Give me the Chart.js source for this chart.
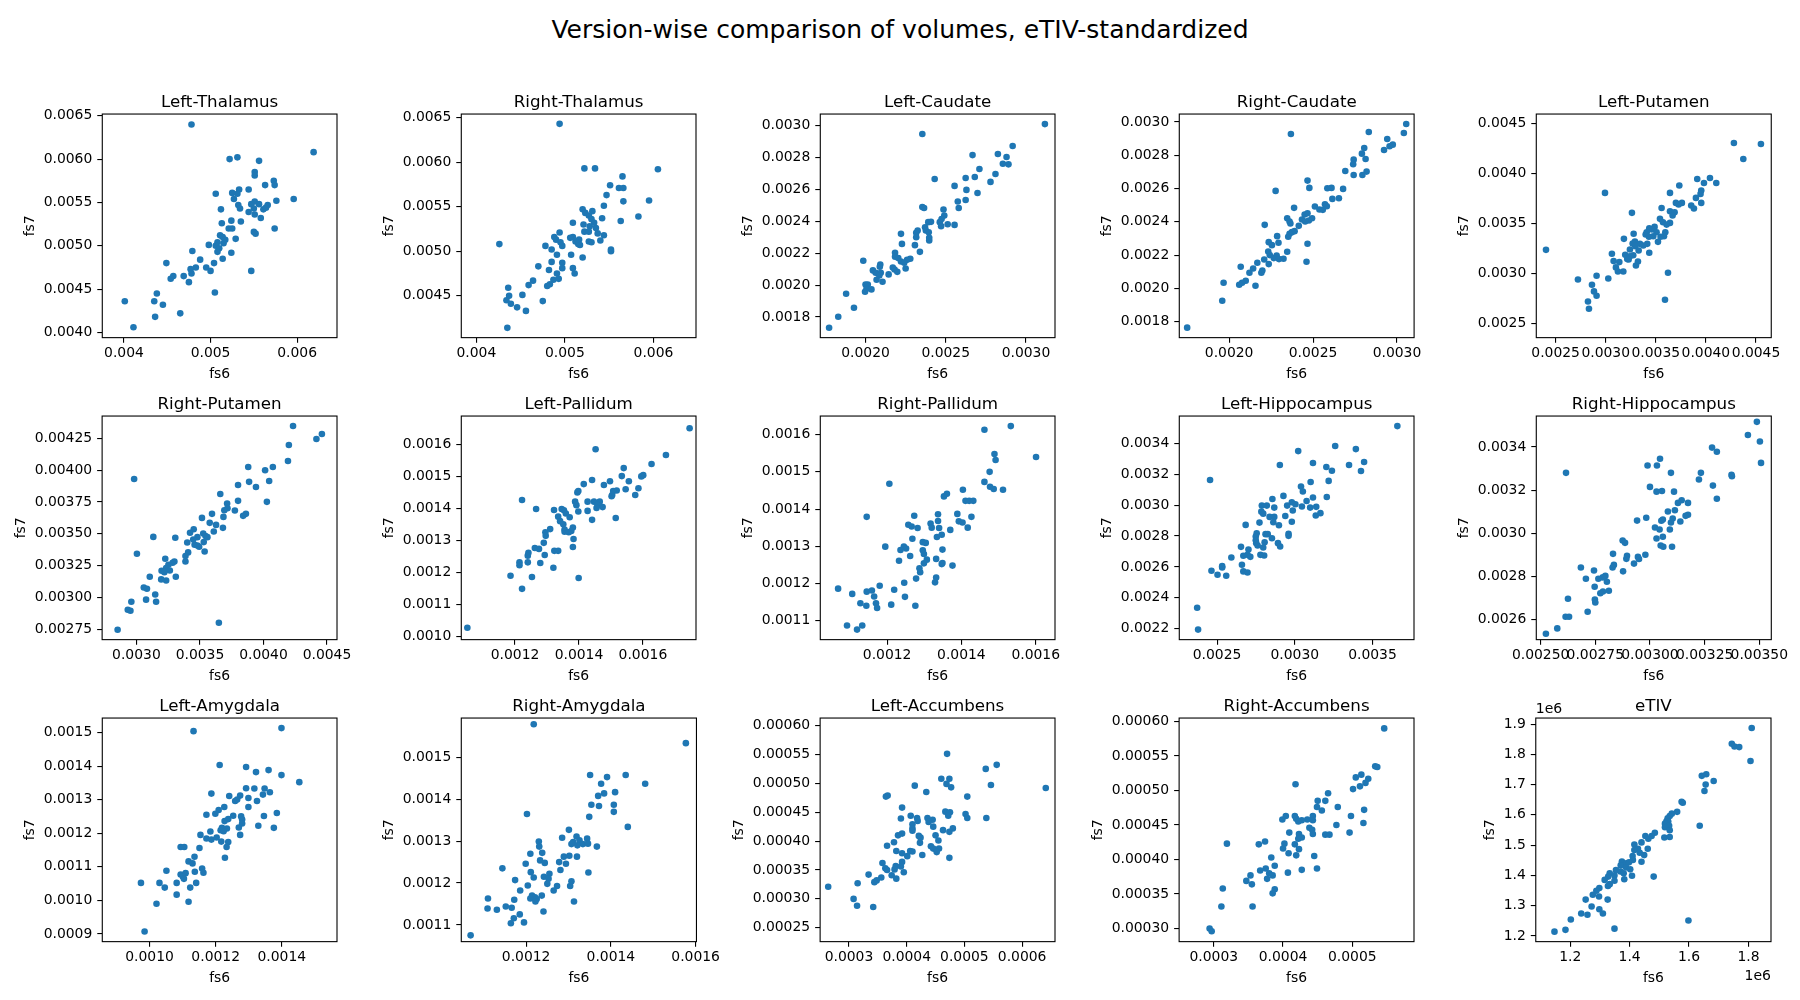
<!DOCTYPE html>
<html lang="en">
<head>
<meta charset="UTF-8">
<title>Version-wise comparison of volumes, eTIV-standardized</title>
<script src="https://cdn.jsdelivr.net/npm/chart.js"></script>
<style>
  html, body { margin: 0; padding: 0; background: #fff; }
  body { width: 1800px; height: 1000px; position: relative; overflow: hidden; font-family: "DejaVu Sans", sans-serif; }
  h1 { position: absolute; left: 0; top: 15px; width: 1800px; margin: 0; text-align: center;
       font-weight: normal; font-size: 25px; line-height: 30px; color: #000; }
  .panel { position: absolute; }
</style>
</head>
<body>
<h1>Version-wise comparison of volumes, eTIV-standardized</h1>

<script>
// fs6 (x) vs fs7 (y), eTIV-standardized volumes
const leftThalamusFs6 = [0.00478,0.00619,0.00522,0.00531,0.00556,0.00551,0.00551,0.00573,0.00574,0.00563,0.00544,0.00533,0.00531,0.00525,0.00506,0.00527,0.00596,0.00576,0.00551,0.00556,0.00547,0.00532,0.00566,0.00534,0.00512,0.00550,0.00561,0.00564,0.00544,0.00551,0.00558,0.00524,0.00513,0.00535,0.00521,0.00525,0.00574,0.00550,0.00552,0.00511,0.00514,0.00529,0.00517,0.00508,0.00515,0.00498,0.00506,0.00510,0.00508,0.00524,0.00479,0.00488,0.00514,0.00504,0.00449,0.00483,0.00495,0.00500,0.00547,0.00477,0.00478,0.00469,0.00457,0.00454,0.00475,0.00505,0.00438,0.00401,0.00435,0.00445,0.00465,0.00436,0.00411];
const leftThalamusFs7 = [0.00640,0.00608,0.00600,0.00602,0.00598,0.00585,0.00581,0.00575,0.00570,0.00570,0.00565,0.00565,0.00560,0.00561,0.00560,0.00554,0.00554,0.00552,0.00551,0.00548,0.00548,0.00547,0.00547,0.00543,0.00542,0.00543,0.00542,0.00544,0.00539,0.00536,0.00532,0.00529,0.00526,0.00528,0.00520,0.00520,0.00520,0.00516,0.00514,0.00512,0.00510,0.00508,0.00507,0.00504,0.00503,0.00501,0.00500,0.00497,0.00493,0.00492,0.00494,0.00484,0.00485,0.00480,0.00480,0.00475,0.00475,0.00471,0.00471,0.00473,0.00468,0.00465,0.00465,0.00462,0.00458,0.00446,0.00445,0.00436,0.00436,0.00432,0.00422,0.00418,0.00406];

const rightThalamusFs6 = [0.00494,0.00522,0.00534,0.00605,0.00565,0.00551,0.00561,0.00566,0.00547,0.00595,0.00566,0.00544,0.00520,0.00531,0.00523,0.00583,0.00527,0.00542,0.00530,0.00563,0.00533,0.00509,0.00521,0.00528,0.00535,0.00522,0.00527,0.00494,0.00537,0.00544,0.00488,0.00509,0.00506,0.00490,0.00516,0.00540,0.00512,0.00527,0.00530,0.00495,0.00515,0.00517,0.00497,0.00478,0.00426,0.00485,0.00552,0.00552,0.00491,0.00507,0.00485,0.00497,0.00520,0.00470,0.00497,0.00509,0.00482,0.00511,0.00491,0.00487,0.00493,0.00464,0.00459,0.00483,0.00480,0.00436,0.00452,0.00437,0.00434,0.00475,0.00439,0.00446,0.00456,0.00435];
const rightThalamusFs7 = [0.00643,0.00593,0.00593,0.00592,0.00584,0.00574,0.00571,0.00571,0.00563,0.00557,0.00556,0.00551,0.00547,0.00545,0.00543,0.00539,0.00540,0.00537,0.00536,0.00534,0.00532,0.00532,0.00530,0.00528,0.00526,0.00522,0.00522,0.00521,0.00520,0.00518,0.00516,0.00516,0.00515,0.00513,0.00513,0.00512,0.00511,0.00511,0.00510,0.00510,0.00508,0.00507,0.00506,0.00506,0.00508,0.00502,0.00502,0.00500,0.00496,0.00496,0.00488,0.00487,0.00493,0.00483,0.00481,0.00481,0.00479,0.00475,0.00475,0.00468,0.00469,0.00467,0.00462,0.00463,0.00461,0.00459,0.00451,0.00450,0.00445,0.00444,0.00441,0.00437,0.00433,0.00414];

const leftCaudateFs6 = [0.003118,0.002354,0.002917,0.002667,0.002825,0.002879,0.002856,0.002891,0.002710,0.002810,0.002681,0.002624,0.002431,0.002779,0.002555,0.002629,0.002698,0.002624,0.002575,0.002581,0.002354,0.002365,0.002486,0.002491,0.002474,0.002391,0.002408,0.002463,0.002512,0.002555,0.002471,0.002371,0.002376,0.002394,0.002325,0.002221,0.002316,0.002316,0.002397,0.002397,0.002227,0.002308,0.002339,0.001986,0.002184,0.002184,0.002204,0.002279,0.002259,0.002221,0.002241,0.002092,0.002089,0.002170,0.002181,0.002250,0.002046,0.002063,0.002095,0.002144,0.002198,0.002086,0.002069,0.002106,0.002000,0.002014,0.002006,0.002037,0.001997,0.001879,0.001928,0.001830,0.001773];
const leftCaudateFs7 = [0.003008,0.002946,0.002871,0.002814,0.002821,0.002802,0.002760,0.002756,0.002727,0.002696,0.002677,0.002671,0.002664,0.002646,0.002621,0.002596,0.002577,0.002533,0.002523,0.002483,0.002489,0.002483,0.002473,0.002435,0.002414,0.002394,0.002396,0.002394,0.002381,0.002377,0.002369,0.002362,0.002342,0.002331,0.002342,0.002321,0.002327,0.002300,0.002296,0.002279,0.002258,0.002250,0.002208,0.002152,0.002202,0.002177,0.002169,0.002165,0.002158,0.002148,0.002140,0.002129,0.002115,0.002110,0.002098,0.002104,0.002092,0.002077,0.002077,0.002067,0.002083,0.002060,0.002033,0.002021,0.002004,0.002004,0.001977,0.001973,0.001958,0.001946,0.001858,0.001802,0.001733];

const rightCaudateFs6 = [0.003055,0.003041,0.002832,0.002368,0.002942,0.002975,0.002956,0.002923,0.002805,0.002791,0.002813,0.002742,0.002739,0.002692,0.002819,0.002794,0.002742,0.002467,0.002478,0.002585,0.002610,0.002679,0.002277,0.002615,0.002654,0.002571,0.002582,0.002511,0.002387,0.002538,0.002558,0.002450,0.002467,0.002346,0.002494,0.002434,0.002475,0.002453,0.002360,0.002365,0.002212,0.002415,0.002390,0.002374,0.002360,0.002286,0.002352,0.002294,0.002236,0.002255,0.002467,0.002346,0.002233,0.002242,0.002283,0.002266,0.002297,0.002324,0.002209,0.002461,0.002236,0.002168,0.002069,0.002143,0.002121,0.002198,0.002192,0.002099,0.002077,0.002060,0.001967,0.002157,0.001959,0.001750];
const rightCaudateFs7 = [0.002988,0.002934,0.002940,0.002928,0.002898,0.002864,0.002854,0.002832,0.002844,0.002810,0.002778,0.002774,0.002746,0.002706,0.002702,0.002682,0.002682,0.002648,0.002604,0.002602,0.002604,0.002598,0.002586,0.002538,0.002542,0.002506,0.002494,0.002492,0.002484,0.002474,0.002472,0.002444,0.002452,0.002422,0.002422,0.002414,0.002408,0.002402,0.002402,0.002390,0.002382,0.002376,0.002344,0.002338,0.002328,0.002314,0.002310,0.002274,0.002278,0.002260,0.002268,0.002220,0.002222,0.002200,0.002198,0.002182,0.002176,0.002178,0.002174,0.002160,0.002146,0.002154,0.002130,0.002120,0.002094,0.002108,0.002094,0.002046,0.002034,0.002022,0.002034,0.002016,0.001926,0.001764];

const leftPutamenFs6 = [0.004280,0.004550,0.004374,0.004041,0.003914,0.003981,0.004104,0.003735,0.002993,0.003642,0.003954,0.003947,0.003901,0.003701,0.003761,0.003728,0.003854,0.003954,0.003881,0.003558,0.003642,0.003688,0.003668,0.003262,0.003542,0.003572,0.003642,0.003608,0.003488,0.003435,0.003462,0.003409,0.003508,0.003595,0.003279,0.003399,0.003475,0.003582,0.003182,0.003432,0.003548,0.003292,0.003269,0.003342,0.003415,0.003522,0.003375,0.003296,0.003242,0.003329,0.002404,0.003435,0.003062,0.003195,0.003275,0.003242,0.003215,0.003079,0.003136,0.003322,0.003229,0.003102,0.003302,0.003122,0.003176,0.003622,0.002909,0.003026,0.002723,0.002863,0.002883,0.002909,0.002823,0.003592,0.002833];
const leftPutamenFs7 = [0.004301,0.004291,0.004142,0.003953,0.003943,0.003903,0.003903,0.003877,0.003804,0.003804,0.003827,0.003794,0.003754,0.003704,0.003704,0.003688,0.003678,0.003704,0.003648,0.003654,0.003621,0.003611,0.003578,0.003605,0.003545,0.003512,0.003505,0.003488,0.003465,0.003452,0.003439,0.003412,0.003412,0.003412,0.003396,0.003389,0.003372,0.003372,0.003346,0.003366,0.003366,0.003319,0.003299,0.003296,0.003296,0.003316,0.003279,0.003273,0.003240,0.003230,0.003236,0.003207,0.003197,0.003187,0.003183,0.003173,0.003144,0.003124,0.003114,0.003120,0.003140,0.003061,0.003080,0.003021,0.003021,0.003008,0.002978,0.002951,0.002941,0.002888,0.002822,0.002779,0.002722,0.002739,0.002649];

const rightPutamenFs6 = [0.004233,0.004460,0.004417,0.004200,0.004193,0.003880,0.004074,0.004013,0.002982,0.004045,0.003887,0.003800,0.003941,0.003660,0.003800,0.004027,0.003714,0.003717,0.003692,0.003775,0.003595,0.003862,0.003840,0.003685,0.003516,0.003577,0.003627,0.003681,0.003609,0.003451,0.003422,0.003526,0.003133,0.003306,0.003480,0.003544,0.003559,0.003447,0.003400,0.003530,0.003458,0.003494,0.003480,0.003537,0.003004,0.003407,0.003386,0.003227,0.003386,0.003299,0.003285,0.003252,0.003234,0.003263,0.003198,0.003220,0.003310,0.003105,0.003195,0.003234,0.003058,0.003083,0.003148,0.003076,0.003155,0.002960,0.002932,0.002953,0.003649,0.002852];
const rightPutamenFs7 = [0.004347,0.004284,0.004245,0.004198,0.004072,0.004025,0.004025,0.003999,0.003931,0.003915,0.003908,0.003884,0.003868,0.003813,0.003759,0.003751,0.003738,0.003701,0.003685,0.003683,0.003657,0.003657,0.003641,0.003633,0.003625,0.003586,0.003570,0.003547,0.003518,0.003536,0.003508,0.003503,0.003476,0.003469,0.003474,0.003482,0.003474,0.003456,0.003432,0.003435,0.003414,0.003398,0.003408,0.003361,0.003343,0.003354,0.003325,0.003304,0.003283,0.003283,0.003273,0.003257,0.003231,0.003212,0.003210,0.003199,0.003163,0.003163,0.003142,0.003134,0.003079,0.003069,0.003024,0.002983,0.002967,0.002967,0.002904,0.002896,0.002802,0.002747];

const leftPallidumFs6 = [0.001746,0.001452,0.001672,0.001627,0.001540,0.001601,0.001534,0.001595,0.001441,0.001497,0.001556,0.001415,0.001478,0.001586,0.001546,0.001518,0.001507,0.001395,0.001398,0.001504,0.001502,0.001576,0.001222,0.001427,0.001447,0.001465,0.001388,0.001392,0.001458,0.001474,0.001455,0.001266,0.001322,0.001346,0.001353,0.001427,0.001398,0.001359,0.001335,0.001371,0.001515,0.001441,0.001341,0.001351,0.001381,0.001355,0.001310,0.001355,0.001368,0.001376,0.001295,0.001296,0.001383,0.001290,0.001381,0.001262,0.001275,0.001323,0.001335,0.001242,0.001240,0.001293,0.001240,0.001279,0.001214,0.001214,0.001320,0.001186,0.001253,0.001399,0.001222,0.001051];
const leftPallidumFs7 = [0.001651,0.001585,0.001567,0.001539,0.001526,0.001504,0.001501,0.001500,0.001489,0.001485,0.001485,0.001476,0.001473,0.001463,0.001460,0.001456,0.001454,0.001450,0.001454,0.001442,0.001438,0.001442,0.001426,0.001421,0.001421,0.001421,0.001421,0.001410,0.001410,0.001404,0.001401,0.001398,0.001395,0.001398,0.001394,0.001392,0.001390,0.001384,0.001374,0.001372,0.001370,0.001364,0.001360,0.001350,0.001340,0.001334,0.001335,0.001327,0.001325,0.001329,0.001325,0.001314,0.001304,0.001292,0.001279,0.001276,0.001273,0.001267,0.001267,0.001261,0.001252,0.001254,0.001231,0.001229,0.001231,0.001222,0.001214,0.001189,0.001185,0.001182,0.001148,0.001026];

const rightPallidumFs6 = [0.001533,0.001462,0.001601,0.001489,0.001492,0.001476,0.001462,0.001206,0.001477,0.001487,0.001512,0.001404,0.001361,0.001353,0.001411,0.001421,0.001432,0.001389,0.001337,0.001273,0.001145,0.001427,0.001337,0.001393,0.001403,0.001317,0.001257,0.001266,0.001282,0.001320,0.001340,0.001417,0.001370,0.001347,0.001334,0.001268,0.001296,0.001304,0.001195,0.001245,0.001251,0.001236,0.001349,0.001296,0.001299,0.001262,0.001332,0.001307,0.001232,0.001299,0.001347,0.001376,0.001349,0.001287,0.001289,0.001332,0.001278,0.001329,0.001246,0.001180,0.001068,0.001219,0.001145,0.001159,0.001106,0.001165,0.001248,0.001128,0.001170,0.001144,0.001211,0.001173,0.001276,0.001092,0.001133,0.001119];
const rightPallidumFs7 = [0.001623,0.001613,0.001540,0.001548,0.001532,0.001500,0.001473,0.001468,0.001460,0.001454,0.001452,0.001452,0.001441,0.001434,0.001422,0.001422,0.001422,0.001387,0.001386,0.001382,0.001379,0.001379,0.001368,0.001367,0.001364,0.001361,0.001358,0.001353,0.001349,0.001350,0.001349,0.001350,0.001344,0.001331,0.001325,0.001320,0.001311,0.001309,0.001299,0.001299,0.001294,0.001290,0.001291,0.001289,0.001279,0.001274,0.001266,0.001264,0.001261,0.001254,0.001252,0.001248,0.001255,0.001241,0.001230,0.001216,0.001213,0.001203,0.001202,0.001194,0.001186,0.001183,0.001178,0.001181,0.001172,0.001165,0.001164,0.001147,0.001147,0.001140,0.001143,0.001134,0.001140,0.001087,0.001087,0.001076];

const leftHippocampusFs6 = [0.003660,0.003022,0.003260,0.003393,0.002455,0.002904,0.003117,0.003203,0.003239,0.003349,0.003446,0.003426,0.003102,0.003218,0.003040,0.003052,0.003206,0.003117,0.002927,0.002856,0.003076,0.002981,0.002788,0.002820,0.002951,0.003004,0.003046,0.003099,0.003138,0.002868,0.002987,0.002785,0.002797,0.003135,0.003165,0.002838,0.002868,0.002939,0.002773,0.002862,0.002981,0.002684,0.002898,0.002755,0.002812,0.002826,0.002960,0.002960,0.002749,0.002853,0.002749,0.002806,0.002752,0.002892,0.002761,0.002906,0.002654,0.002797,0.002702,0.002696,0.002669,0.002803,0.002592,0.002714,0.002779,0.002660,0.002533,0.002533,0.002464,0.002669,0.002696,0.002503,0.002559,0.002372,0.002378];
const leftHippocampusFs7 = [0.003512,0.003350,0.003383,0.003363,0.003163,0.003260,0.003273,0.003247,0.003223,0.003260,0.003279,0.003221,0.003150,0.003157,0.003120,0.003088,0.003053,0.003049,0.003060,0.003040,0.003027,0.003019,0.002997,0.002997,0.002997,0.003006,0.002991,0.002984,0.002989,0.002984,0.002965,0.002958,0.002945,0.002933,0.002948,0.002924,0.002924,0.002930,0.002887,0.002889,0.002892,0.002872,0.002870,0.002818,0.002812,0.002812,0.002814,0.002801,0.002797,0.002786,0.002773,0.002760,0.002754,0.002754,0.002739,0.002732,0.002730,0.002726,0.002713,0.002678,0.002672,0.002674,0.002661,0.002665,0.002678,0.002614,0.002596,0.002605,0.002575,0.002571,0.002564,0.002549,0.002543,0.002336,0.002194];

const rightHippocampusFs6 = [0.003489,0.003448,0.003503,0.003508,0.003284,0.003306,0.003046,0.002989,0.003032,0.002616,0.003096,0.003233,0.003224,0.003373,0.003375,0.003288,0.003000,0.003030,0.003055,0.003110,0.003306,0.003145,0.003128,0.003174,0.003114,0.003082,0.003174,0.003163,0.002983,0.003104,0.003059,0.002941,0.003139,0.003052,0.003096,0.003023,0.003044,0.003091,0.003030,0.003059,0.002875,0.002886,0.003049,0.003061,0.003101,0.002831,0.002979,0.002895,0.002892,0.002945,0.002950,0.002835,0.002829,0.002927,0.002684,0.002744,0.002877,0.002796,0.002784,0.002764,0.002707,0.002803,0.002747,0.002812,0.002785,0.002773,0.002625,0.002748,0.002750,0.002715,0.002614,0.002630,0.002576,0.002524];
const rightHippocampusFs7 = [0.003516,0.003455,0.003425,0.003326,0.003397,0.003378,0.003345,0.003314,0.003314,0.003280,0.003280,0.003280,0.003249,0.003271,0.003264,0.003221,0.003215,0.003193,0.003196,0.003193,0.003160,0.003153,0.003141,0.003141,0.003107,0.003101,0.003086,0.003081,0.003072,0.003069,0.003064,0.003059,0.003055,0.003058,0.003050,0.003027,0.003018,0.003018,0.002976,0.002984,0.002967,0.002956,0.002944,0.002938,0.002938,0.002905,0.002901,0.002896,0.002882,0.002891,0.002881,0.002854,0.002842,0.002860,0.002842,0.002828,0.002824,0.002803,0.002796,0.002790,0.002790,0.002776,0.002753,0.002734,0.002731,0.002723,0.002697,0.002694,0.002680,0.002637,0.002614,0.002614,0.002560,0.002535];

const leftAmygdalaFs6 = [0.001399,0.001133,0.001212,0.001292,0.001322,0.001360,0.001399,0.001453,0.001292,0.001317,0.001348,0.001364,0.001343,0.001187,0.001241,0.001274,0.001299,0.001325,0.001259,0.001265,0.001226,0.001299,0.001209,0.001199,0.001172,0.001385,0.001346,0.001253,0.001277,0.001238,0.001227,0.001280,0.001280,0.001329,0.001376,0.001270,0.001219,0.001234,0.001215,0.001184,0.001224,0.001274,0.001154,0.001172,0.001187,0.001203,0.001217,0.001238,0.001233,0.001094,0.001105,0.001151,0.001136,0.001228,0.001118,0.001130,0.001051,0.001137,0.001159,0.001163,0.001094,0.001109,0.001101,0.001104,0.000974,0.001030,0.001082,0.001141,0.001046,0.001123,0.001082,0.001118,0.001021,0.000985];
const leftAmygdalaFs7 = [0.001513,0.001504,0.001403,0.001397,0.001382,0.001388,0.001373,0.001352,0.001334,0.001333,0.001333,0.001322,0.001315,0.001318,0.001311,0.001312,0.001305,0.001296,0.001296,0.001300,0.001278,0.001278,0.001269,0.001258,0.001255,0.001260,0.001251,0.001252,0.001250,0.001242,0.001236,0.001241,0.001229,0.001222,0.001216,0.001217,0.001216,0.001214,0.001209,0.001205,0.001206,0.001195,0.001195,0.001184,0.001181,0.001187,0.001175,0.001174,0.001159,0.001159,0.001159,0.001156,0.001130,0.001127,0.001116,0.001110,0.001088,0.001085,0.001095,0.001082,0.001077,0.001081,0.001070,0.001064,0.001052,0.001052,0.001052,0.001052,0.001038,0.001038,0.001017,0.000996,0.000990,0.000907];

const rightAmygdalaFs6 = [0.001218,0.001577,0.001351,0.001435,0.001391,0.001481,0.001377,0.001410,0.001384,0.001370,0.001354,0.001372,0.001407,0.001407,0.001202,0.001349,0.001440,0.001301,0.001285,0.001344,0.001319,0.001230,0.001311,0.001326,0.001307,0.001334,0.001346,0.001321,0.001231,0.001367,0.001238,0.001210,0.001302,0.001289,0.001320,0.001233,0.001278,0.001244,0.001199,0.001294,0.001144,0.001281,0.001347,0.001211,0.001255,0.001242,0.001218,0.001253,0.001174,0.001307,0.001250,0.001273,0.001204,0.001304,0.001186,0.001265,0.001214,0.001237,0.001221,0.001225,0.001210,0.001110,0.001172,0.001313,0.001222,0.001152,0.001166,0.001109,0.001131,0.001241,0.001185,0.001171,0.001164,0.001195,0.001069];
const rightAmygdalaFs7 = [0.001579,0.001534,0.001458,0.001458,0.001453,0.001437,0.001437,0.001417,0.001414,0.001408,0.001387,0.001384,0.001387,0.001370,0.001365,0.001358,0.001334,0.001327,0.001308,0.001306,0.001311,0.001299,0.001298,0.001302,0.001293,0.001293,0.001294,0.001290,0.001287,0.001287,0.001272,0.001270,0.001265,0.001263,0.001263,0.001254,0.001250,0.001248,0.001246,0.001246,0.001235,0.001231,0.001225,0.001226,0.001222,0.001215,0.001213,0.001210,0.001207,0.001204,0.001198,0.001193,0.001194,0.001193,0.001182,0.001182,0.001170,0.001170,0.001166,0.001162,0.001163,0.001163,0.001160,0.001156,0.001156,0.001144,0.001141,0.001139,0.001136,0.001132,0.001125,0.001116,0.001104,0.001106,0.001075];

const leftAccumbensFs6 = [0.000470,0.000556,0.000537,0.000460,0.000474,0.000469,0.000546,0.000414,0.000477,0.000641,0.000434,0.000367,0.000364,0.000505,0.000392,0.000467,0.000475,0.000502,0.000407,0.000472,0.000538,0.000505,0.000418,0.000390,0.000436,0.000445,0.000419,0.000438,0.000410,0.000446,0.000410,0.000480,0.000463,0.000474,0.000410,0.000392,0.000385,0.000450,0.000421,0.000424,0.000455,0.000378,0.000423,0.000366,0.000442,0.000456,0.000446,0.000452,0.000382,0.000406,0.000410,0.000392,0.000427,0.000401,0.000474,0.000358,0.000392,0.000381,0.000363,0.000390,0.000366,0.000379,0.000395,0.000374,0.000334,0.000382,0.000356,0.000348,0.000344,0.000315,0.000264,0.000308,0.000314,0.000342];
const leftAccumbensFs7 = [0.000551,0.000532,0.000525,0.000508,0.000508,0.000499,0.000497,0.000496,0.000493,0.000492,0.000485,0.000479,0.000477,0.000477,0.000458,0.000451,0.000450,0.000447,0.000444,0.000444,0.000440,0.000440,0.000440,0.000439,0.000440,0.000437,0.000435,0.000433,0.000429,0.000425,0.000422,0.000422,0.000419,0.000416,0.000418,0.000413,0.000410,0.000410,0.000409,0.000406,0.000401,0.000398,0.000397,0.000392,0.000391,0.000387,0.000387,0.000381,0.000383,0.000383,0.000382,0.000379,0.000376,0.000374,0.000371,0.000362,0.000364,0.000357,0.000353,0.000356,0.000350,0.000351,0.000346,0.000341,0.000342,0.000335,0.000337,0.000332,0.000329,0.000327,0.000321,0.000300,0.000288,0.000286];

const rightAccumbensFs6 = [0.000546,0.000533,0.000536,0.000513,0.000505,0.000523,0.000519,0.000418,0.000511,0.000501,0.000465,0.000450,0.000461,0.000456,0.000449,0.000479,0.000517,0.000498,0.000404,0.000399,0.000417,0.000419,0.000443,0.000435,0.000427,0.000443,0.000422,0.000516,0.000477,0.000438,0.000442,0.000409,0.000496,0.000443,0.000461,0.000467,0.000423,0.000427,0.000422,0.000374,0.000365,0.000319,0.000402,0.000417,0.000400,0.000423,0.000408,0.000419,0.000445,0.000383,0.000388,0.000375,0.000449,0.000367,0.000427,0.000380,0.000407,0.000385,0.000353,0.000377,0.000347,0.000355,0.000388,0.000313,0.000385,0.000311,0.000356,0.000294,0.000297];
const rightAccumbensFs7 = [0.000590,0.000535,0.000534,0.000523,0.000519,0.000517,0.000511,0.000509,0.000506,0.000502,0.000496,0.000485,0.000485,0.000471,0.000476,0.000476,0.000472,0.000463,0.000463,0.000458,0.000463,0.000459,0.000463,0.000458,0.000457,0.000457,0.000455,0.000453,0.000450,0.000446,0.000443,0.000439,0.000439,0.000437,0.000436,0.000436,0.000437,0.000432,0.000430,0.000426,0.000422,0.000423,0.000423,0.000422,0.000416,0.000415,0.000409,0.000406,0.000405,0.000403,0.000391,0.000387,0.000387,0.000384,0.000385,0.000380,0.000381,0.000377,0.000377,0.000372,0.000369,0.000364,0.000357,0.000358,0.000351,0.000332,0.000332,0.000300,0.000296];

// eTIV in units of 1e6
const etivFs6 = [1.811,1.744,1.753,1.769,1.807,1.643,1.658,1.683,1.656,1.652,1.575,1.579,1.560,1.542,1.535,1.528,1.524,1.530,1.519,1.636,1.533,1.519,1.535,1.485,1.474,1.453,1.463,1.535,1.517,1.440,1.416,1.461,1.428,1.416,1.434,1.449,1.410,1.411,1.440,1.374,1.388,1.398,1.370,1.388,1.354,1.369,1.402,1.380,1.333,1.408,1.481,1.349,1.382,1.328,1.316,1.349,1.333,1.327,1.298,1.288,1.276,1.297,1.252,1.326,1.272,1.298,1.310,1.237,1.258,1.202,1.598,1.184,1.349,1.147];
const etivFs7 = [1.887,1.835,1.826,1.824,1.778,1.729,1.734,1.712,1.700,1.679,1.643,1.640,1.610,1.604,1.596,1.589,1.579,1.578,1.571,1.564,1.564,1.559,1.549,1.541,1.530,1.530,1.521,1.527,1.525,1.509,1.502,1.488,1.488,1.484,1.475,1.467,1.464,1.451,1.445,1.446,1.440,1.443,1.433,1.426,1.418,1.413,1.420,1.407,1.407,1.399,1.396,1.400,1.387,1.396,1.385,1.382,1.371,1.365,1.358,1.349,1.336,1.330,1.320,1.320,1.297,1.288,1.274,1.274,1.270,1.254,1.251,1.220,1.224,1.214];

// tick labels
const thalamusXTicks = ['0.004', '0.005', '0.006'];
const leftThalamusYTicks = ['0.0040', '0.0045', '0.0050', '0.0055', '0.0060', '0.0065'];
const rightThalamusYTicks = ['0.0045', '0.0050', '0.0055', '0.0060', '0.0065'];
const caudateXTicks = ['0.0020', '0.0025', '0.0030'];
const caudateYTicks = ['0.0018', '0.0020', '0.0022', '0.0024', '0.0026', '0.0028', '0.0030'];
const leftPutamenTicks = ['0.0025', '0.0030', '0.0035', '0.0040', '0.0045'];
const rightPutamenXTicks = ['0.0030', '0.0035', '0.0040', '0.0045'];
const rightPutamenYTicks = ['0.00275', '0.00300', '0.00325', '0.00350', '0.00375', '0.00400', '0.00425'];
const pallidumXTicks = ['0.0012', '0.0014', '0.0016'];
const leftPallidumYTicks = ['0.0010', '0.0011', '0.0012', '0.0013', '0.0014', '0.0015', '0.0016'];
const rightPallidumYTicks = ['0.0011', '0.0012', '0.0013', '0.0014', '0.0015', '0.0016'];
const leftHippocampusXTicks = ['0.0025', '0.0030', '0.0035'];
const leftHippocampusYTicks = ['0.0022', '0.0024', '0.0026', '0.0028', '0.0030', '0.0032', '0.0034'];
const rightHippocampusXTicks = ['0.00250', '0.00275', '0.00300', '0.00325', '0.00350'];
const rightHippocampusYTicks = ['0.0026', '0.0028', '0.0030', '0.0032', '0.0034'];
const leftAmygdalaXTicks = ['0.0010', '0.0012', '0.0014'];
const leftAmygdalaYTicks = ['0.0009', '0.0010', '0.0011', '0.0012', '0.0013', '0.0014', '0.0015'];
const rightAmygdalaXTicks = ['0.0012', '0.0014', '0.0016'];
const rightAmygdalaYTicks = ['0.0011', '0.0012', '0.0013', '0.0014', '0.0015'];
const leftAccumbensXTicks = ['0.0003', '0.0004', '0.0005', '0.0006'];
const leftAccumbensYTicks = ['0.00025', '0.00030', '0.00035', '0.00040', '0.00045', '0.00050', '0.00055', '0.00060'];
const rightAccumbensXTicks = ['0.0003', '0.0004', '0.0005'];
const rightAccumbensYTicks = ['0.00030', '0.00035', '0.00040', '0.00045', '0.00050', '0.00055', '0.00060'];
const etivXTicks = ['1.2', '1.4', '1.6', '1.8'];
const etivYTicks = ['1.2', '1.3', '1.4', '1.5', '1.6', '1.7', '1.8', '1.9'];

const panels = [
  { title: 'Left-Thalamus', x: leftThalamusFs6, y: leftThalamusFs7, xt: thalamusXTicks, yt: leftThalamusYTicks, xl: [0.00375, 0.00646], yl: [0.00394, 0.00652] },
  { title: 'Right-Thalamus', x: rightThalamusFs6, y: rightThalamusFs7, xt: thalamusXTicks, yt: rightThalamusYTicks, xl: [0.00383, 0.00648], yl: [0.00403, 0.00654] },
  { title: 'Left-Caudate', x: leftCaudateFs6, y: leftCaudateFs7, xt: caudateXTicks, yt: caudateYTicks, xl: [0.001718, 0.003181], yl: [0.001671, 0.003071] },
  { title: 'Right-Caudate', x: rightCaudateFs6, y: rightCaudateFs7, xt: caudateXTicks, yt: caudateYTicks, xl: [0.001703, 0.003102], yl: [0.001704, 0.003048] },
  { title: 'Left-Putamen', x: leftPutamenFs6, y: leftPutamenFs7, xt: leftPutamenTicks, yt: leftPutamenTicks, xl: [0.002307, 0.004653], yl: [0.002361, 0.004590] },
  { title: 'Right-Putamen', x: rightPutamenFs6, y: rightPutamenFs7, xt: rightPutamenXTicks, yt: rightPutamenYTicks, xl: [0.002730, 0.004579], yl: [0.002669, 0.004425] },
  { title: 'Left-Pallidum', x: leftPallidumFs6, y: leftPallidumFs7, xt: pallidumXTicks, yt: leftPallidumYTicks, xl: [0.001032, 0.001766], yl: [0.000989, 0.001689] },
  { title: 'Right-Pallidum', x: rightPallidumFs6, y: rightPallidumFs7, xt: pallidumXTicks, yt: rightPallidumYTicks, xl: [0.001020, 0.001652], yl: [0.001049, 0.001650] },
  { title: 'Left-Hippocampus', x: leftHippocampusFs6, y: leftHippocampusFs7, xt: leftHippocampusXTicks, yt: leftHippocampusYTicks, xl: [0.002257, 0.003767], yl: [0.002129, 0.003577] },
  { title: 'Right-Hippocampus', x: rightHippocampusFs6, y: rightHippocampusFs7, xt: rightHippocampusXTicks, yt: rightHippocampusYTicks, xl: [0.002480, 0.003555], yl: [0.002508, 0.003543] },
  { title: 'Left-Amygdala', x: leftAmygdalaFs6, y: leftAmygdalaFs7, xt: leftAmygdalaXTicks, yt: leftAmygdalaYTicks, xl: [0.000857, 0.001567], yl: [0.000877, 0.001543] },
  { title: 'Right-Amygdala', x: rightAmygdalaFs6, y: rightAmygdalaFs7, xt: rightAmygdalaXTicks, yt: rightAmygdalaYTicks, xl: [0.001047, 0.001602], yl: [0.001060, 0.001594] },
  { title: 'Left-Accumbens', x: leftAccumbensFs6, y: leftAccumbensFs7, xt: leftAccumbensXTicks, yt: leftAccumbensYTicks, xl: [0.000250, 0.000657], yl: [0.000226, 0.000613] },
  { title: 'Right-Accumbens', x: rightAccumbensFs6, y: rightAccumbensFs7, xt: rightAccumbensXTicks, yt: rightAccumbensYTicks, xl: [0.000250, 0.000589], yl: [0.000281, 0.000605] },
  { title: 'eTIV', x: etivFs6, y: etivFs7, xt: etivXTicks, yt: etivYTicks, xl: [1.084, 1.876], yl: [1.181, 1.920], offset: '1e6' }
];

// subplot grid (axes boxes, in page pixels)
const colLeft = [102, 461, 820, 1179, 1536];
const rowTop = [114, 416, 718];
const AX_W = 235, AX_H = 224;
const BLUE = '#1f77b4';
const FONT = '"DejaVu Sans", sans-serif';

Chart.defaults.font.family = FONT;
Chart.defaults.color = '#000';

// matplotlib-style full frame around the axes (+ the 1e6 offset text on eTIV)
const framePlugin = {
  id: 'frame',
  afterDraw(chart) {
    const a = chart.chartArea, ctx = chart.ctx;
    ctx.save();
    ctx.strokeStyle = '#000';
    ctx.lineWidth = 1.1;
    ctx.strokeRect(a.left, a.top, a.right - a.left, a.bottom - a.top);
    const off = chart.options.plugins.frame.offset;
    if (off) {
      ctx.fillStyle = '#000';
      ctx.font = '14px ' + FONT;
      ctx.textBaseline = 'middle';
      ctx.textAlign = 'left';
      ctx.fillText(off, a.left, a.top - 9);
      ctx.textAlign = 'right';
      ctx.fillText(off, a.right, a.bottom + 35);
    }
    ctx.restore();
  }
};

function axis(labels, lim, title, pos) {
  const values = labels.map(Number);
  return {
    type: 'linear',
    position: pos,
    min: lim[0],
    max: lim[1],
    afterBuildTicks: s => { s.ticks = values.map(v => ({ value: v })); },
    ticks: {
      autoSkip: false, maxRotation: 0, minRotation: 0,
      padding: pos === 'left' ? 5 : 2,
      color: '#000',
      font: { size: 13.9 },
      callback: (v, i) => labels[i]
    },
    grid: { display: true, drawOnChartArea: false, drawTicks: true, tickLength: 5, color: '#000', lineWidth: 1.1 },
    border: { display: false },
    title: {
      display: true, text: title, color: '#000', font: { size: 13.9 },
      padding: pos === 'left' ? { top: 0, bottom: 0 } : { top: 3, bottom: 0 }
    }
  };
}

panels.forEach((p, k) => {
  const col = k % 5, row = Math.floor(k / 5);
  const div = document.createElement('div');
  div.className = 'panel';
  const canvas = document.createElement('canvas');
  div.appendChild(canvas);
  document.body.appendChild(div);
  let w = 100 + AX_W + 30, h = 40 + AX_H + 50;
  div.style.width = w + 'px';
  div.style.height = h + 'px';

  const chart = new Chart(canvas, {
    type: 'scatter',
    data: {
      datasets: [{
        data: p.x.map((x, i) => ({ x: x, y: p.y[i] })),
        backgroundColor: BLUE,
        borderColor: BLUE,
        borderWidth: 0,
        pointRadius: 3.3,
        pointHoverRadius: 3.3
      }]
    },
    options: {
      responsive: true,
      maintainAspectRatio: false,
      animation: false,
      layout: { padding: { top: 6, right: 8, left: 2, bottom: 2 } },
      scales: {
        x: axis(p.xt, p.xl, 'fs6', 'bottom'),
        y: axis(p.yt, p.yl, 'fs7', 'left')
      },
      plugins: {
        legend: { display: false },
        tooltip: { enabled: false },
        title: {
          display: true, text: p.title, color: '#000',
          fullSize: false,
          font: { size: 16.7, weight: 'normal' },
          padding: { top: 0, bottom: 1 }
        },
        frame: { offset: p.offset || null }
      }
    },
    plugins: [framePlugin]
  });

  // size the canvas so the plot area is exactly AX_W x AX_H, then place it
  for (let n = 0; n < 3; n++) {
    const a = chart.chartArea;
    w = Math.round(a.left + AX_W + (w - a.right));
    h = Math.round(a.top + AX_H + (h - a.bottom));
    div.style.width = w + 'px';
    div.style.height = h + 'px';
    chart.resize();
  }
  const a = chart.chartArea;
  div.style.left = (colLeft[col] - a.left) + 'px';
  div.style.top = (rowTop[row] - a.top) + 'px';
});
</script>
</body>
</html>
